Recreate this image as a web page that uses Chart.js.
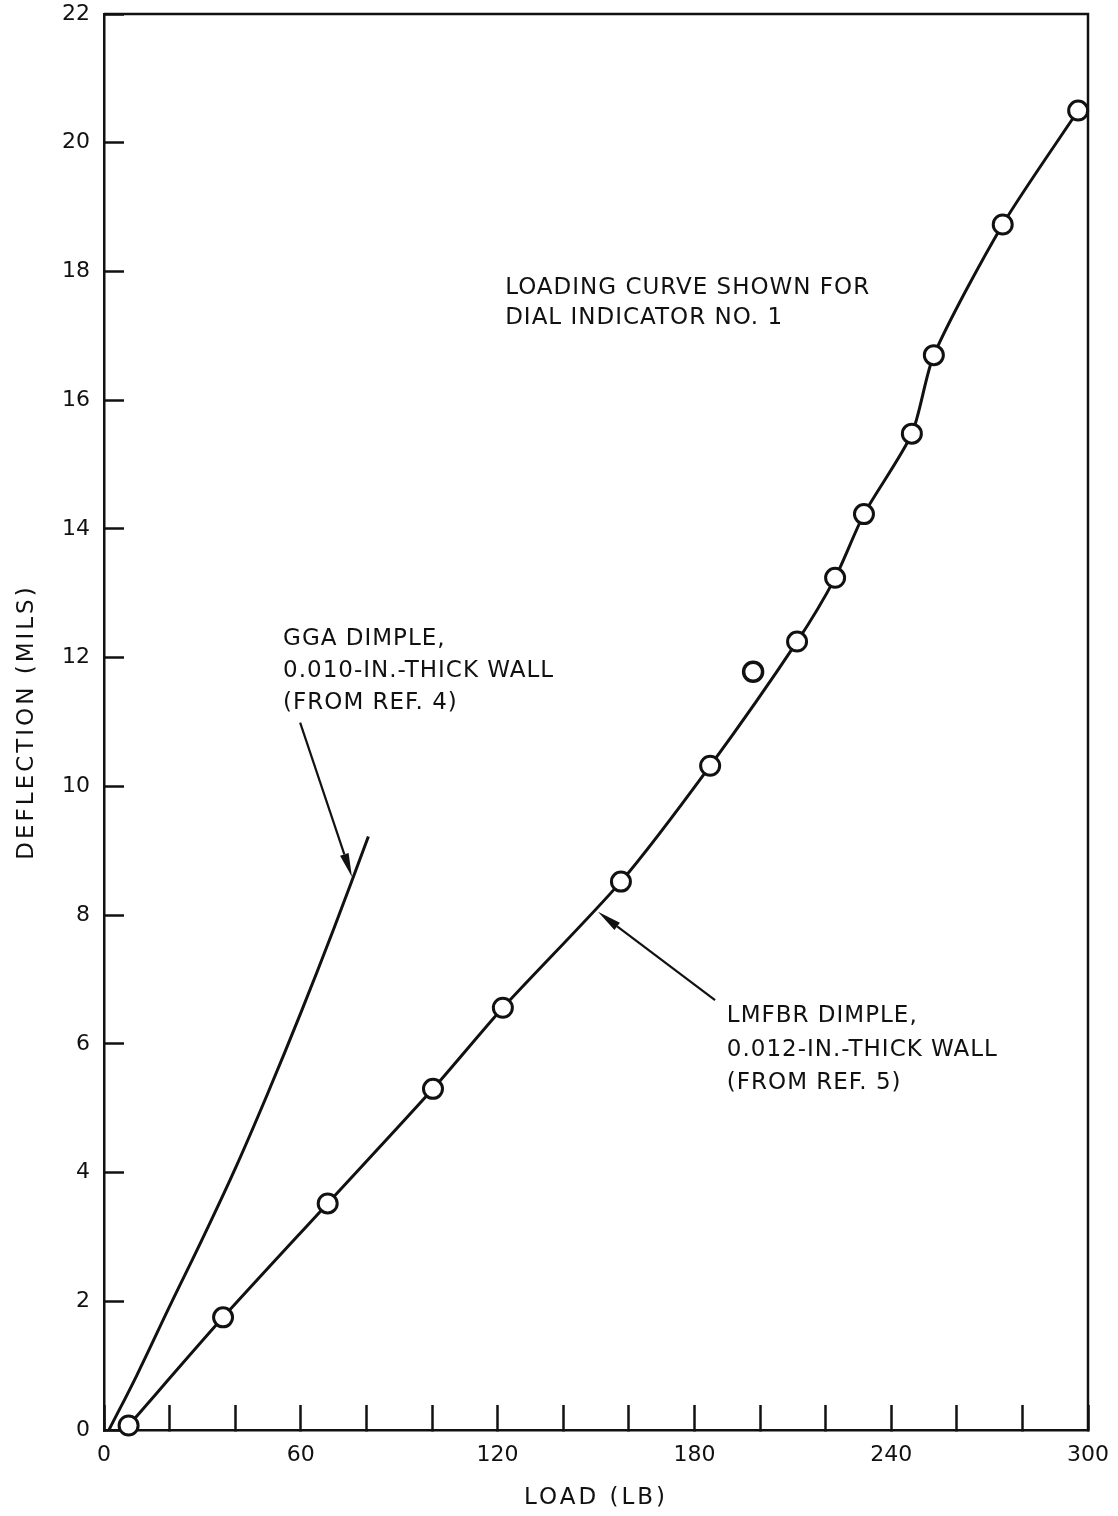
<!DOCTYPE html>
<html>
<head>
<meta charset="utf-8">
<title>Dimple load-deflection</title>
<script src="https://cdn.jsdelivr.net/npm/chart.js@4.4.1/dist/chart.umd.min.js"></script>
<style>
  html, body { margin: 0; padding: 0; background: #fff; }
  #wrap { width: 1118px; height: 1516px; position: relative; }
</style>
</head>
<body>
<div id="wrap"><canvas id="c" width="1118" height="1516"></canvas></div>
<script>
// LMFBR dimple, 0.012-in.-thick wall: measured loading points (dial indicator no. 1)
const loadLb =         [7.5, 36.3, 68.2, 100.3, 121.6, 157.6, 184.8, 211.3, 222.9, 231.7, 246.3, 253.0, 274.0, 297.0];
const deflectionMils = [0.07, 1.75, 3.52, 5.30, 6.56, 8.52, 10.32, 12.25, 13.24, 14.23, 15.48, 16.70, 18.73, 20.50];

// Stray reading that the faired curve does not pass through
const strayLoadLb = [197.9];
const strayDeflMils = [11.78];

// GGA dimple, 0.010-in.-thick wall (from ref. 4)
const ggaLoadLb =   [1.5, 10.0, 20.0, 30.0, 40.0, 50.0, 60.0, 70.0, 80.6];
const ggaDeflMils = [0.0, 0.85, 1.92, 2.97, 4.06, 5.24, 6.48, 7.78, 9.22];

// Axis ticks
const xTickStep = 20;
const xTickLabels = [0, 60, 120, 180, 240, 300];
const yTickLabels = [0, 2, 4, 6, 8, 10, 12, 14, 16, 18, 20, 22];

// Callout texts and where they sit (load at the left edge, deflection of each line)
const noteTexts = [
  ['LOADING CURVE SHOWN FOR', 'DIAL INDICATOR NO. 1'],
  ['GGA DIMPLE,', '0.010-IN.-THICK WALL', '(FROM REF. 4)'],
  ['LMFBR DIMPLE,', '0.012-IN.-THICK WALL', '(FROM REF. 5)']
];
const noteLeftLb = [122.3, 54.6, 189.9];
const noteLineMils = [
  [17.75, 17.27],
  [12.29, 11.79, 11.30],
  [6.43, 5.91, 5.39]
];
// Leader arrows: tail and head (load, deflection)
const arrowTail = [[59.8, 10.99], [186.3, 6.68]];
const arrowHead = [[75.6, 8.59], [150.6, 8.05]];

const INK = '#111';
const FONT = 'DejaVu Sans';

const toXY = (xs, ys) => xs.map((x, i) => ({ x, y: ys[i] }));

// Frame around the plotting area (top and right edges)
const frame = {
  id: 'frame',
  afterDraw(chart) {
    const { ctx, chartArea: a } = chart;
    ctx.save();
    ctx.strokeStyle = INK;
    ctx.lineWidth = 2.5;
    ctx.beginPath();
    ctx.moveTo(a.left, a.top);
    ctx.lineTo(a.right, a.top);
    ctx.lineTo(a.right, a.bottom);
    ctx.stroke();
    ctx.restore();
  }
};

// Axis titles drawn with wider letter spacing
const spacedTitles = {
  id: 'spacedTitles',
  beforeDraw(chart) {
    Object.values(chart.scales).forEach(scale => {
      if (scale._spaced) return;
      const orig = scale.drawTitle;
      scale.drawTitle = function () {
        const c = this.ctx;
        c.save();
        c.letterSpacing = '3px';
        orig.apply(this, arguments);
        c.restore();
      };
      scale._spaced = true;
    });
  }
};

// Callout text and leader arrows
const callouts = {
  id: 'callouts',
  afterDraw(chart) {
    const { ctx } = chart;
    const xs = chart.scales.x, ys = chart.scales.y;
    ctx.save();
    ctx.fillStyle = INK;
    ctx.font = '23px "' + FONT + '"';
    ctx.letterSpacing = '1px';
    ctx.textAlign = 'left';
    ctx.textBaseline = 'middle';
    noteTexts.forEach((lines, i) => {
      const px = xs.getPixelForValue(noteLeftLb[i]);
      lines.forEach((t, j) => ctx.fillText(t, px, ys.getPixelForValue(noteLineMils[i][j])));
    });
    ctx.strokeStyle = INK;
    ctx.lineWidth = 2.2;
    arrowTail.forEach((tail, i) => {
      const x0 = xs.getPixelForValue(tail[0]), y0 = ys.getPixelForValue(tail[1]);
      const x1 = xs.getPixelForValue(arrowHead[i][0]), y1 = ys.getPixelForValue(arrowHead[i][1]);
      const ang = Math.atan2(y1 - y0, x1 - x0);
      const len = 24, half = 4.5;
      const bx = x1 - len * Math.cos(ang), by = y1 - len * Math.sin(ang);
      ctx.beginPath();
      ctx.moveTo(x0, y0);
      ctx.lineTo(bx, by);
      ctx.stroke();
      ctx.beginPath();
      ctx.moveTo(x1, y1);
      ctx.lineTo(bx + half * Math.sin(ang), by - half * Math.cos(ang));
      ctx.lineTo(bx - half * Math.sin(ang), by + half * Math.cos(ang));
      ctx.closePath();
      ctx.fill();
    });
    ctx.restore();
  }
};

new Chart(document.getElementById('c'), {
  type: 'line',
  data: {
    datasets: [
      {
        label: 'GGA dimple',
        data: toXY(ggaLoadLb, ggaDeflMils),
        borderColor: INK,
        borderWidth: 3,
        pointRadius: 0,
        tension: 0.4,
        clip: false
      },
      {
        label: 'LMFBR dimple',
        data: toXY(loadLb, deflectionMils),
        borderColor: INK,
        borderWidth: 3,
        pointRadius: 9.5,
        pointBorderWidth: 3,
        pointBorderColor: INK,
        pointBackgroundColor: '#fff',
        tension: 0.25,
        clip: false
      },
      {
        label: 'Stray reading',
        data: toXY(strayLoadLb, strayDeflMils),
        showLine: false,
        pointRadius: 9.5,
        pointBorderWidth: 3.5,
        pointBorderColor: INK,
        pointBackgroundColor: '#fff',
        clip: false
      }
    ]
  },
  options: {
    responsive: false,
    animation: false,
    devicePixelRatio: 1,
    layout: { padding: { top: 14, right: 30, bottom: 0, left: 0 } },
    plugins: { legend: { display: false }, tooltip: { enabled: false } },
    scales: {
      x: {
        type: 'linear',
        min: 0,
        max: 300,
        afterFit: s => { s.height = 86; s.paddingLeft = 0; s.paddingRight = 0; },
        afterBuildTicks: s => {
          const t = [];
          for (let v = 0; v <= 300; v += xTickStep) t.push({ value: v });
          s.ticks = t;
        },
        ticks: {
          autoSkip: false,
          maxRotation: 0,
          padding: 37,
          color: INK,
          font: { family: FONT, size: 22 },
          callback: v => (xTickLabels.includes(v) ? String(v) : '')
        },
        grid: { drawOnChartArea: false, drawTicks: true, tickLength: -25, tickWidth: 2.5, tickColor: INK },
        border: { display: true, color: INK, width: 2.5 },
        title: {
          display: true,
          text: 'LOAD (LB)',
          color: INK,
          font: { family: FONT, size: 23 },
          padding: { top: 0, bottom: 4 }
        }
      },
      y: {
        type: 'linear',
        min: 0,
        max: 22,
        afterFit: s => { s.width = 104; s.paddingTop = 0; s.paddingBottom = 0; },
        afterBuildTicks: s => { s.ticks = yTickLabels.map(v => ({ value: v })); },
        ticks: {
          autoSkip: false,
          padding: 34,
          color: INK,
          font: { family: FONT, size: 22 },
          callback: v => String(v)
        },
        grid: { drawOnChartArea: false, drawTicks: true, tickLength: -20, tickWidth: 2.5, tickColor: INK },
        border: { display: true, color: INK, width: 2.5 },
        title: {
          display: true,
          text: 'DEFLECTION (MILS)',
          color: INK,
          font: { family: FONT, size: 23 },
          padding: { top: 13, bottom: 0 }
        }
      }
    }
  },
  plugins: [spacedTitles, frame, callouts]
});
</script>
</body>
</html>
